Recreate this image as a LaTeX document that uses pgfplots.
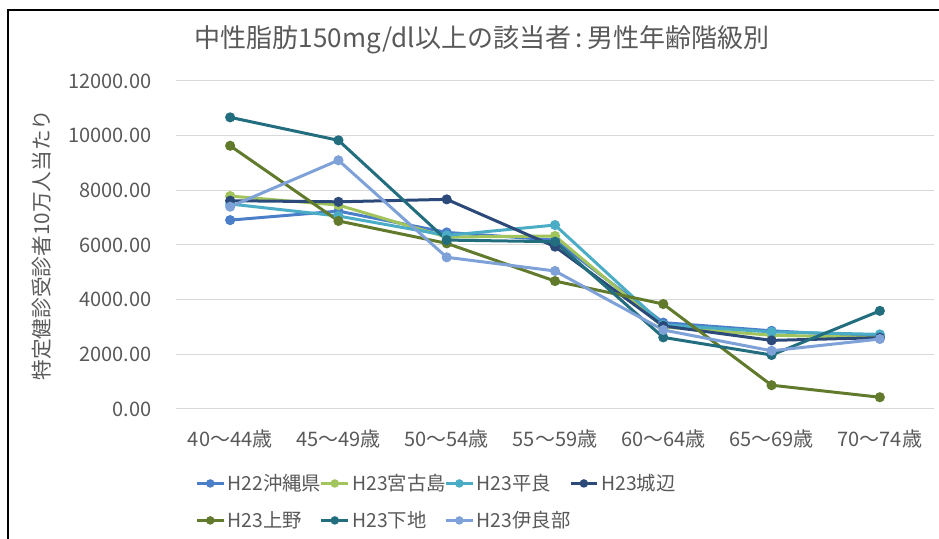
\documentclass[border=0pt]{standalone}
\usepackage{fontspec}
\setmainfont{Noto Sans CJK JP}
\usepackage{pgfplots}
\pgfplotsset{compat=1.18}
\definecolor{txt}{HTML}{595959}
\definecolor{gridc}{HTML}{D9D9D9}
\definecolor{c1}{HTML}{4A7EC8}
\definecolor{c2}{HTML}{A2C45C}
\definecolor{c3}{HTML}{4BACC6}
\definecolor{c4}{HTML}{2B4A7A}
\definecolor{c5}{HTML}{617A2C}
\definecolor{c6}{HTML}{226E7F}
\definecolor{c7}{HTML}{7EA2D8}
\begin{document}
\begin{tikzpicture}[x=0.75pt,y=0.75pt]
\path[use as bounding box] (0,0) rectangle (939,539);
\draw[black, line width=1.4pt] (8,-20) rectangle (960,529);
\begin{axis}[
  at={(132pt,97.5pt)}, anchor=south west,
  scale only axis, width=568.5pt, height=246pt,
  xmin=-0.5, xmax=6.5, ymin=0, ymax=12000,
  xtick={0,...,6},
  xticklabels={40～44歳,45～49歳,50～54歳,55～59歳,60～64歳,65～69歳,70～74歳},
  ytick={0,2000,...,12000},
  scaled y ticks=false,
  axis line style={draw=none},
  major tick length=0pt,
  ymajorgrids, grid style={color=gridc, line width=0.75pt},
  /pgf/number format/.cd, fixed, fixed zerofill, precision=2, 1000 sep={}, assume math mode=true,
  /pgfplots/.cd,
  tick label style={font=\fontsize{15}{18}\selectfont, text=txt},
  yticklabel style={xshift=-15pt},
  xticklabel style={yshift=-12pt},
  every axis y label/.style={at={(axis description cs:-0.1768,0.5)}, rotate=90, anchor=center},
  ylabel={特定健診受診者10万人当たり},
  ylabel style={font=\fontsize{15.5}{18}\selectfont, text=txt},
  title={中性脂肪150mg/dl以上の該当者\,:\,男性年齢階級別},
  title style={at={(axis description cs:0.4037,1.10)}, anchor=center, font=\fontsize{19.5}{22}\selectfont, text=txt},
  legend columns=4,
  legend cell align=left,
  legend style={at={(axis description cs:0.02,-0.182)}, anchor=north west, draw=none, fill=none,
    font=\fontsize{14.5}{17}\selectfont, text=txt,
    /tikz/every even column/.append style={column sep=-3pt}, row sep=10pt},
  legend image code/.code={\draw[mark repeat=2,mark phase=2,#1,mark size=2pt] plot coordinates {(0pt,0pt) (10pt,0pt) (20pt,0pt)};},
  every axis plot/.append style={line width=2.25pt, mark=*, mark size=2.6pt},
]
\addplot[color=c1, mark options={fill=c1}] coordinates {(0,6910) (1,7240) (2,6460) (3,6180) (4,3160) (5,2860) (6,2650)};
\addplot[color=c2, mark options={fill=c2}] coordinates {(0,7790) (1,7460) (2,6290) (3,6330) (4,3000) (5,2700) (6,2610)};
\addplot[color=c3, mark options={fill=c3}] coordinates {(0,7500) (1,7060) (2,6350) (3,6730) (4,3080) (5,2820) (6,2730)};
\addplot[color=c4, mark options={fill=c4}] coordinates {(0,7620) (1,7580) (2,7670) (3,5940) (4,3040) (5,2510) (6,2610)};
\addplot[color=c5, mark options={fill=c5}] coordinates {(0,9630) (1,6880) (2,6060) (3,4680) (4,3840) (5,870) (6,430)};
\addplot[color=c6, mark options={fill=c6}] coordinates {(0,10670) (1,9830) (2,6180) (3,6120) (4,2620) (5,1975) (6,3590)};
\addplot[color=c7, mark options={fill=c7}] coordinates {(0,7400) (1,9100) (2,5550) (3,5050) (4,2890) (5,2130) (6,2560)};
\legend{H22沖縄県,H23宮古島,H23平良,H23城辺,H23上野,H23下地,H23伊良部}
\end{axis}
\end{tikzpicture}
\end{document}
